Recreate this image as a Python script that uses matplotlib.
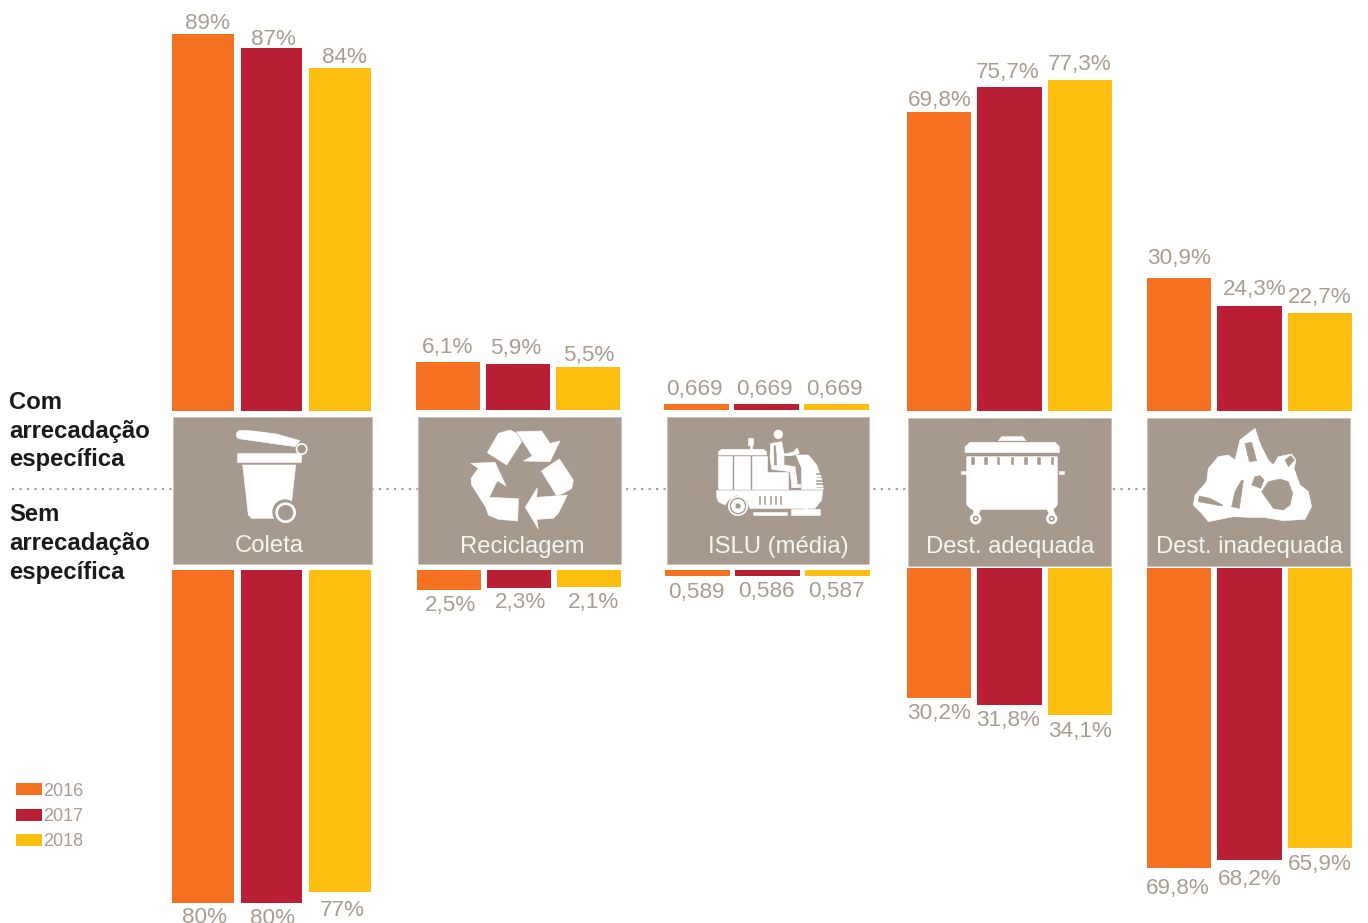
import matplotlib
matplotlib.use('Agg')
import matplotlib.pyplot as plt
from matplotlib.patches import Polygon, Circle, Rectangle

plt.rcParams['font.family'] = ['Liberation Sans', 'DejaVu Sans']

W, H = 1368, 923

anos = ['2016', '2017', '2018']
categorias = ['Coleta', 'Reciclagem', 'ISLU (média)', 'Dest. adequada', 'Dest. inadequada']

coleta_com = [89, 87, 84]
coleta_sem = [80, 80, 77]
reciclagem_com = [6.1, 5.9, 5.5]
reciclagem_sem = [2.5, 2.3, 2.1]
islu_com = [0.669, 0.669, 0.669]
islu_sem = [0.589, 0.586, 0.587]
adequada_com = [69.8, 75.7, 77.3]
adequada_sem = [30.2, 31.8, 34.1]
inadequada_com = [30.9, 24.3, 22.7]
inadequada_sem = [69.8, 68.2, 65.9]

LARANJA = '#F57021'
VERMELHO = '#B92035'
AMARELO = '#FDBE0F'
CINZA = '#A69A8E'
CINZA_TXT = '#A99D92'
cores = [LARANJA, VERMELHO, AMARELO]

fig = plt.figure(figsize=(W / 100, H / 100), dpi=100)

fundo = fig.add_axes([0, 0, 1, 1])
fundo.set_xlim(0, W)
fundo.set_ylim(H, 0)
fundo.axis('off')


def eixo_px(x0, x1, y0, y1):
    ax = fig.add_axes([x0 / W, 1 - y1 / H, (x1 - x0) / W, (y1 - y0) / H])
    ax.patch.set_alpha(0)
    ax.axis('off')
    return ax


def painel(valores, x0, x1, base, fim, escala, fmt, dx, dy, largura, v0=0):
    # cada bloco de barras tem a sua propria escala (px por unidade)
    ax = eixo_px(x0, x1, min(base, fim), max(base, fim))
    alt = abs(fim - base) / escala
    xs = range(3)
    ax.set_xlim(-largura / 2, 2 + largura / 2)
    if fim < base:
        ax.set_ylim(v0, v0 + alt)
    else:
        ax.set_ylim(v0 + alt, v0)
    barras = ax.bar(xs, [v - v0 for v in valores], width=largura, bottom=v0, color=cores)
    sinal = 1 if fim < base else -1
    for i, b in enumerate(barras):
        txt = fmt.format(valores[i]).replace('.', ',')
        ax.annotate(txt, (i, valores[i]), xytext=(dx[i] * 0.72, sinal * dy[i] * 0.72),
                    textcoords='offset points', ha='center', va='center_baseline',
                    fontsize=16.2, color=CINZA_TXT, annotation_clip=False, clip_on=False)


painel(coleta_com, 172, 371, 411, 0, 6.8, '{:.0f}%', [4, 2, 4], [13, 11, 13], 0.905, v0=33.6)
painel(coleta_sem, 172, 371, 570, 923, 3.6, '{:.0f}%', [2, 1, 2], [12, 13, 16], 0.905, v0=-12.5)
painel(reciclagem_com, 416, 620, 410, 300, 7.87, '{:.1f}%', [0, -2, 1], [17, 18, 14], 0.914)
painel(reciclagem_sem, 417, 621, 570, 650, 8.0, '{:.1f}%', [2, 1, 4], [13, 12, 13], 0.914)
painel(islu_com, 664, 869, 410, 350, 9.0, '{:.3f}', [-2, -2, -2], [17, 17, 17], 0.925)
painel(islu_sem, 665, 870, 570, 630, 10.0, '{:.3f}', [-1, -1, -1], [14, 13, 13], 0.925)
painel(adequada_com, 907, 1112, 411, 0, 4.28, '{:.1f}%', [1, -2, 0], [14, 17, 18], 0.91)
painel(adequada_sem, 907, 1112, 568, 800, 4.31, '{:.1f}%', [0, -1, 0], [13, 13, 14], 0.91)
painel(inadequada_com, 1147, 1352, 411, 150, 4.31, '{:.1f}%', [0, 5, 0], [22, 19, 18], 0.91)
painel(inadequada_sem, 1147, 1352, 568, 923, 5.1, '{:.1f}%', [-1, 0, 0], [18, 17, 14], 0.91, v0=11)

# linha pontilhada
fundo.plot([12, 1147], [489, 489], color=CINZA_TXT, lw=1.6, linestyle=(0, (1, 2.37)), zorder=1)

# caixas
caixas = [(173, 372, 417, 564), (418, 621, 417, 564), (667, 869, 417, 564),
          (908, 1111, 418, 566), (1147, 1350, 418, 566)]
for (x0, x1, y0, y1), nome in zip(caixas, categorias):
    fundo.add_patch(Rectangle((x0, y0), x1 - x0 - 0.5, y1 - y0, fc=CINZA, ec='#C9C2BA', lw=0.6, zorder=2))

nomes_x = [269.5, 522, 778, 1010, 1249]
nomes_y = [544, 545, 545, 545, 545]
for x, y, nome in zip(nomes_x, nomes_y, categorias):
    fundo.text(x, y, nome, ha='center', va='center_baseline', fontsize=17.2, color='#F7F5F2', zorder=5)


def forma(orig, pts, cor='white', z=3):
    p = [(orig[0] + a / 3, orig[1] + b / 3) for a, b in pts]
    fundo.add_patch(Polygon(p, closed=True, fc=cor, ec=cor, lw=0.4, joinstyle='round', zorder=z))


def disco(orig, a, b, r, cor='white', z=3):
    fundo.add_patch(Circle((orig[0] + a / 3, orig[1] + b / 3), r / 3, fc=cor, ec='none', zorder=z))


# lixeira
o = (170, 410)
forma(o, [(200, 68), (208, 61), (250, 63), (320, 72), (390, 92), (375, 110), (205, 86), (199, 78)])
forma(o, [(200, 130), (392, 130), (392, 155), (200, 155)])
forma(o, [(218, 165), (377, 165), (365, 275), (350, 325), (245, 325), (235, 315)])
disco(o, 345, 306, 38, CINZA, 4)
disco(o, 347, 308, 31, 'white', 4)
disco(o, 347, 308, 23, CINZA, 4)
disco(o, 395, 117, 18, 'white', 4)
disco(o, 395, 117, 13, CINZA, 4)

# reciclagem
forma(o, [(985, 70), (1020, 60), (1040, 70), (1055, 95), (1010, 165), (952, 128)])
forma(o, [(1040, 65), (1115, 63), (1140, 100), (1170, 93), (1140, 155), (1060, 153), (1087, 138)])
forma(o, [(1168, 147), (1210, 210), (1205, 235), (1180, 250), (1160, 257), (1114, 183)])
forma(o, [(1192, 255), (1165, 310), (1150, 325), (1100, 328), (1105, 357), (1066, 292), (1102, 233), (1100, 262)])
forma(o, [(955, 262), (1045, 266), (1043, 333), (985, 328), (955, 315), (945, 285)])
forma(o, [(903, 160), (975, 157), (1008, 228), (982, 212), (945, 288), (905, 225), (903, 205), (925, 175)])

# varredeira
o = (660, 410)
forma(o, [(175, 125), (185, 118), (310, 118), (320, 125), (320, 135), (175, 135)])
forma(o, [(175, 138), (217, 138), (217, 238), (175, 238)])
forma(o, [(222, 138), (270, 138), (270, 238), (222, 238)])
forma(o, [(275, 138), (320, 138), (320, 185), (385, 185), (385, 238), (275, 238)])
forma(o, [(265, 85), (280, 85), (280, 105), (275, 105), (275, 118), (270, 118), (270, 105), (265, 105)])
disco(o, 355, 73, 14)
forma(o, [(332, 100), (365, 95), (372, 130), (395, 130), (395, 136), (372, 138), (372, 165), (405, 170), (412, 220),
          (395, 220), (390, 185), (335, 178), (330, 140)])
forma(o, [(342, 108), (347, 108), (350, 165), (343, 165)], CINZA, 4)
forma(o, [(395, 220), (422, 224), (422, 233), (395, 233)])
forma(o, [(385, 130), (400, 126), (412, 114), (418, 130), (400, 136), (385, 136)])
forma(o, [(408, 135), (445, 135), (470, 165), (485, 205), (490, 238), (425, 238), (425, 175)])
for ys in [190, 200, 210, 220, 230]:
    forma(o, [(468, ys), (490, ys), (490, ys + 2), (468, ys + 2)], CINZA, 4)
forma(o, [(170, 242), (488, 242), (485, 270), (465, 295), (270, 295), (260, 270), (230, 255), (205, 270), (195, 285),
          (175, 275), (170, 260)])
for xs in [298, 313, 330, 345, 360]:
    forma(o, [(xs - 1.5, 258), (xs + 1.5, 258), (xs + 1.5, 283), (xs - 1.5, 283)], CINZA, 4)
disco(o, 234, 288, 30)
disco(o, 234, 288, 25, CINZA, 4)
disco(o, 234, 288, 21, 'white', 4)
disco(o, 234, 288, 8, CINZA, 4)
forma(o, [(280, 306), (380, 306), (380, 315), (280, 315)])
forma(o, [(393, 298), (480, 298), (480, 315), (393, 315)])
forma(o, [(432, 288), (440, 288), (440, 298), (432, 298)])

# conteiner
forma(o, [(1015, 92), (1025, 80), (1088, 80), (1098, 92)])
forma(o, [(915, 128), (915, 110), (930, 97), (1185, 97), (1198, 110), (1198, 128)])
forma(o, [(920, 140), (1192, 140), (1192, 285), (1180, 298), (935, 298), (920, 285)])
for xs in [933, 972, 1010, 1052, 1092, 1132, 1172]:
    forma(o, [(xs, 140), (xs + 8, 140), (xs + 8, 162), (xs, 162)], CINZA, 4)
forma(o, [(903, 182), (918, 182), (918, 191), (903, 191)])
forma(o, [(1197, 182), (1212, 182), (1212, 191), (1197, 191)])
forma(o, [(940, 298), (962, 298), (955, 315), (942, 315)])
forma(o, [(1160, 298), (1180, 298), (1185, 315), (1170, 315)])
for xs in [947, 1175]:
    disco(o, xs, 326, 17)
    disco(o, xs, 326, 9, CINZA, 4)
    disco(o, xs, 326, 4, 'white', 4)

# lixao
o = (1140, 410)
forma(o, [(345, 55), (362, 105), (385, 150), (400, 165), (415, 140), (455, 132), (468, 150), (462, 175), (480, 225),
          (505, 245), (515, 290), (495, 328), (430, 332), (370, 322), (330, 322), (280, 320), (205, 335), (185, 310),
          (160, 285), (165, 255), (200, 215), (205, 175), (235, 140), (265, 135), (285, 150), (300, 90)])
forma(o, [(315, 100), (335, 97), (350, 152), (328, 155)], CINZA, 4)
forma(o, [(365, 245), (385, 215), (420, 207), (445, 215), (458, 250), (450, 285), (430, 300), (400, 295)], CINZA, 4)
forma(o, [(305, 210), (310, 212), (298, 295), (275, 290), (285, 245)], CINZA, 4)
forma(o, [(178, 258), (210, 265), (248, 285), (245, 288), (175, 275)], CINZA, 4)
forma(o, [(435, 150), (452, 137), (463, 150), (445, 170)], CINZA, 4)
forma(o, [(335, 225), (345, 200), (360, 197), (372, 210), (362, 235)], CINZA, 4)

# textos da esquerda
for y, t in zip([400, 429, 457, 512, 541, 570],
                ['Com', 'arrecadação', 'específica', 'Sem', 'arrecadação', 'específica']):
    fundo.text(9, y, t, fontweight='bold', fontsize=17.2, color='#1A1A1A', va='center_baseline')

# legenda
alcas = [Rectangle((0, 0), 1, 1, fc=c) for c in cores]
fig.legend(alcas, anos, loc='upper left', bbox_to_anchor=(16 / W, 1 - 782.5 / H), frameon=False, fontsize=13,
           labelcolor=CINZA_TXT, handlelength=1.44, handleheight=0.67, handletextpad=0.06, labelspacing=0.47,
           borderpad=0, borderaxespad=0)

fig.savefig('out.png', dpi=100)
